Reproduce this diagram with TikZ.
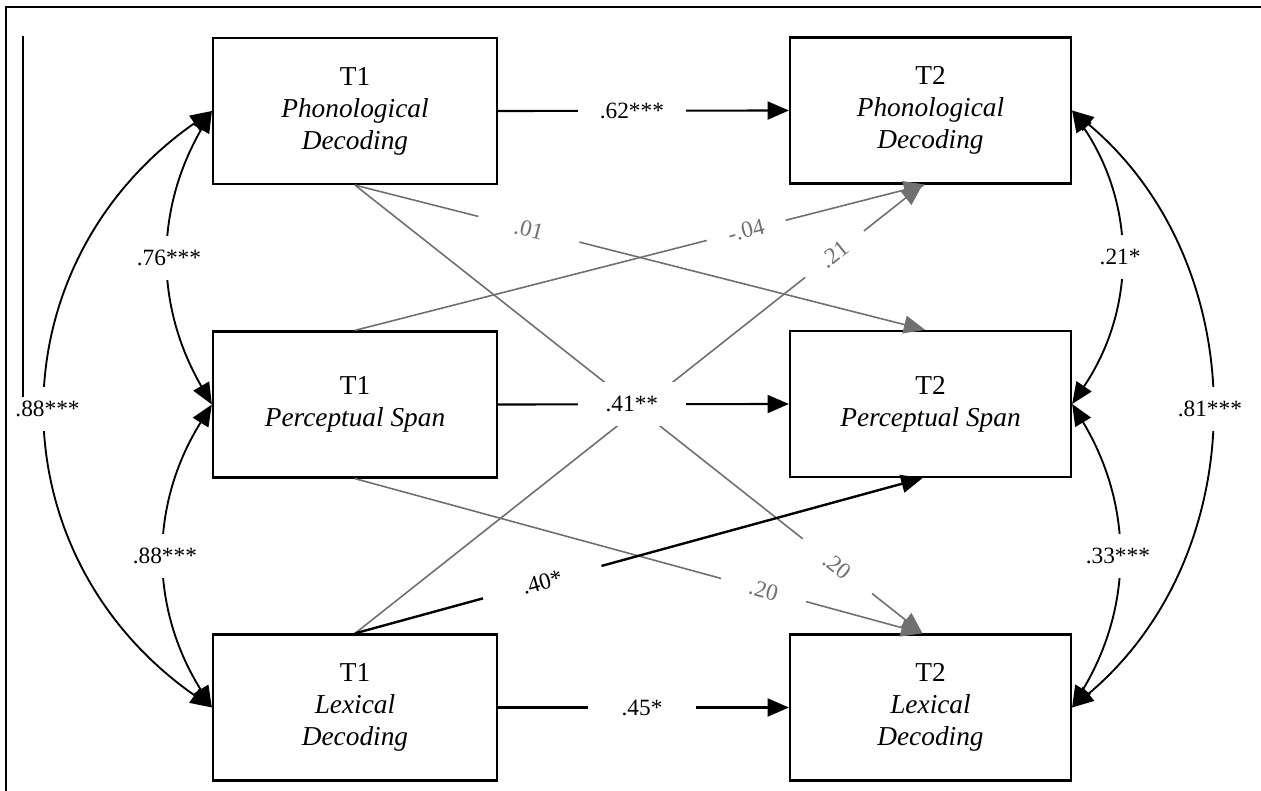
\documentclass[tikz,border=0pt]{standalone}
\usepackage{fontspec}
\setmainfont{Liberation Serif}
\usetikzlibrary{arrows.meta}
\definecolor{lgray}{RGB}{112,112,112}
\begin{document}
\begin{tikzpicture}[x=0.75pt,y=-0.75pt,
  box/.style={draw, line width=1.7pt, minimum height=109.5pt, align=center, inner sep=0pt,
    font=\fontsize{20.5}{24}\selectfont},
  t1box/.style={box, minimum width=213pt},
  t2box/.style={box, minimum width=210.75pt},
  tipa/.style={-{Triangle[length=16pt,width=13.5pt]}},
  blk/.style={draw=black, line width=1.6pt, tipa},
  gry/.style={draw=lgray, color=lgray, line width=1.2pt, tipa},
  curv/.style={draw=black, line width=1.4pt, {Triangle[length=16pt,width=13.5pt]}-{Triangle[length=16pt,width=13.5pt]}},
  lab/.style={fill=white, inner sep=0pt, font=\fontsize{17.5}{20}\selectfont},
  hlab/.style={lab, text=black, minimum width=81pt, minimum height=33pt},
  clab/.style={lab, text=black, minimum width=50pt, minimum height=33pt},
  slab/.style={lab, sloped, text=lgray, minimum height=18pt}
]
\useasboundingbox (0,0) rectangle (1261,791);
% frame
\draw[line width=2pt, line join=miter] (6,791) -- (6,7) -- (1261,7);

% boxes
\node[t1box] (t1p) at (355,111) {T1\\\textit{Phonological}\\\textit{Decoding}};
\node[t1box] (t1s) at (355,404.5) {T1\\\textit{Perceptual Span}};
\node[t1box] (t1l) at (355,707.5) {T1\\\textit{Lexical}\\\textit{Decoding}};
\node[t2box] (t2p) at (930.5,110.5) {T2\\\textit{Phonological}\\\textit{Decoding}};
\node[t2box] (t2s) at (930.5,404) {T2\\\textit{Perceptual Span}};
\node[t2box] (t2l) at (930.5,707.5) {T2\\\textit{Lexical}\\\textit{Decoding}};

% cross-lagged paths
\draw[gry] (t1p.south) -- node[slab, pos=0.305, minimum width=78pt] {.01} ([xshift=-4pt]t2s.north);
\draw[gry] (t1p.south) -- node[slab, pos=0.85, minimum width=66pt] {.20} ([xshift=-6pt]t2l.north);
\draw[gry] (t1s.north) -- node[slab, pos=0.686, minimum width=61pt] {-.04} ([xshift=-4pt]t2p.south);
\draw[gry] (t1l.north) -- node[slab, pos=0.845, minimum width=56pt] {.21} ([xshift=-6pt]t2p.south);
\draw[gry] (t1s.south) -- node[slab, pos=0.72, minimum width=66pt] {.20} ([xshift=-6pt]t2l.north);
\draw[blk, line width=1.8pt] (t1l.north) -- node[slab, text=black, pos=0.33, minimum width=92pt] {.40*} ([xshift=-6pt]t2s.south);

% autoregressive paths
\draw[blk] (t1p.east) -- node[hlab, pos=0.46] {.62***} (t2p.west);
\draw[blk] (t1s.east) -- node[hlab, pos=0.46] {.41**} (t2s.west);
\draw[blk] (t1l.east) -- node[hlab, pos=0.495] {.45*} (t2l.west);

% correlations T1
\draw[curv] (t1p.west) to[bend right=30] node[clab] {.76***} (t1s.west);
\draw[curv] (t1s.west) to[bend right=32] node[clab] {.88***} (t1l.west);
\draw[curv] (t1p.west) to[bend right=55, looseness=1.15] node[clab] {.88***} (t1l.west);

% correlations T2
\draw[curv] (t2p.east) to[bend left=34] node[clab] {.21*} (t2s.east);
\draw[curv] (t2s.east) to[bend left=31] node[clab] {.33***} (t2l.east);
\draw[curv] (t2p.east) to[bend left=50, looseness=1.03] node[clab] {.81***} (t2l.east);

% stray vertical rule
\draw[line width=1pt] (23,36) -- (23,397);
\end{tikzpicture}
\end{document}
